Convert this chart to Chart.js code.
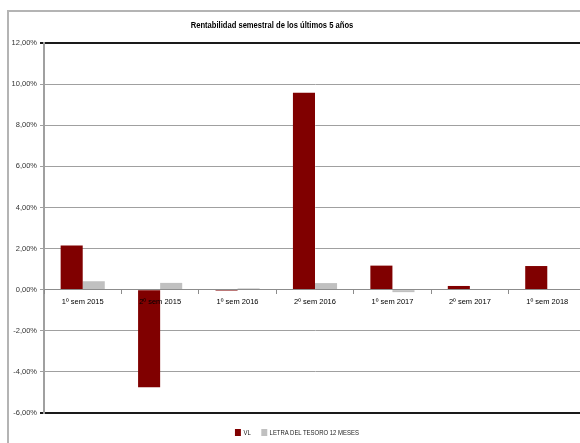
<!DOCTYPE html>
<html><head><meta charset="utf-8">
<script src="https://cdn.jsdelivr.net/npm/chart.js@4"></script>
<style>
html,body{margin:0;padding:0;background:#fff;overflow:hidden;width:580px;height:443px;}
#frame{position:absolute;left:7px;top:10px;width:600px;height:460px;border-left:2px solid #b4b4b4;border-top:2px solid #b4b4b4;}
#wrap{position:absolute;left:0;top:0;width:600px;height:443px;}
#title{position:absolute;left:0;top:19px;width:544px;text-align:center;font:bold 9.5px "Liberation Sans",Arial,sans-serif;color:#000;transform:scaleX(0.8);transform-origin:272px 0;}
#legend{position:absolute;left:0;top:429px;width:594px;text-align:center;font:7px "Liberation Sans",Arial,sans-serif;color:#222;transform:scaleX(0.85);transform-origin:297px 0;}
#legend span.item{margin:0 6px;}
#legend span.sw{display:inline-block;width:7px;height:7px;margin-right:3px;vertical-align:-1px;}
</style></head>
<body>
<div id="frame"></div>
<div id="wrap"><canvas id="c" width="600" height="443"></canvas></div>
<div id="title">Rentabilidad semestral de los últimos 5 años</div>
<div id="legend"></div>
<script>
const chartTitle = "Rentabilidad semestral de los últimos 5 años";
const categories = ["1º sem 2015","2º sem 2015","1º sem 2016","2º sem 2016","1º sem 2017","2º sem 2017","1º sem 2018"];
const seriesNames = ["VL","LETRA DEL TESORO 12 MESES"];
const vlValues = [2.15, -4.75, -0.05, 9.58, 1.17, 0.18, 1.15];
const letraValues = [0.41, 0.33, 0.06, 0.32, -0.12, 0, 0];
const seriesColors = ["#800000","#c0c0c0"];
const yTicks = [12,10,8,6,4,2,0,-2,-4,-6];

document.getElementById('title').textContent = chartTitle;
const leg = document.getElementById('legend');
seriesNames.forEach((n,i)=>{
  const s=document.createElement('span');s.className='item';
  const sw=document.createElement('span');sw.className='sw';sw.style.background=seriesColors[i];
  s.appendChild(sw);s.appendChild(document.createTextNode(n));leg.appendChild(s);
});

const fmt = v => v.toFixed(2).replace('.',',') + '%';
const fam = "'Liberation Sans', Arial, sans-serif";

new Chart(document.getElementById('c'), {
  type: 'bar',
  data: {
    labels: categories,
    datasets: [
      {label: seriesNames[0], data: vlValues, backgroundColor: seriesColors[0], borderWidth: 0, barPercentage: 1, categoryPercentage: 0.57},
      {label: seriesNames[1], data: letraValues, backgroundColor: seriesColors[1], borderWidth: 0, barPercentage: 1, categoryPercentage: 0.57}
    ]
  },
  options: {
    responsive: false,
    animation: false,
    devicePixelRatio: 1,
    layout: {padding: {left: 0, top: 43, right: 14, bottom: 30}},
    plugins: {legend: {display: false}, title: {display: false}, tooltip: {enabled: false}},
    scales: {
      x: {
        position: {y: 0},
        offset: true,
        grid: {offset: true, drawOnChartArea: false, drawTicks: true, tickLength: 4, color: '#8c8c8c', z: 1},
        border: {color: '#8c8c8c', width: 1, z: 1},
        ticks: {z: 2, padding: 4, color: '#000', font: {family: fam, size: 7.5}, maxRotation: 0, autoSkip: false}
      },
      y: {
        min: -6, max: 12,
        afterFit: s => { s.width = 44; },
        afterBuildTicks: s => { s.ticks = yTicks.map(v => ({value: v})); },
        grid: {
          color: ctx => (ctx.tick && (ctx.tick.value === 12 || ctx.tick.value === -6)) ? '#1a1a1a' : '#a0a0a0',
          lineWidth: ctx => (ctx.tick && (ctx.tick.value === 12 || ctx.tick.value === -6)) ? 2 : 1,
          tickLength: 4, drawTicks: true
        },
        border: {color: '#a0a0a0', width: 2},
        ticks: {padding: 3, color: '#333', font: {family: fam, size: 7.5}, callback: v => fmt(v)}
      }
    }
  }
});
</script>
</body></html>
